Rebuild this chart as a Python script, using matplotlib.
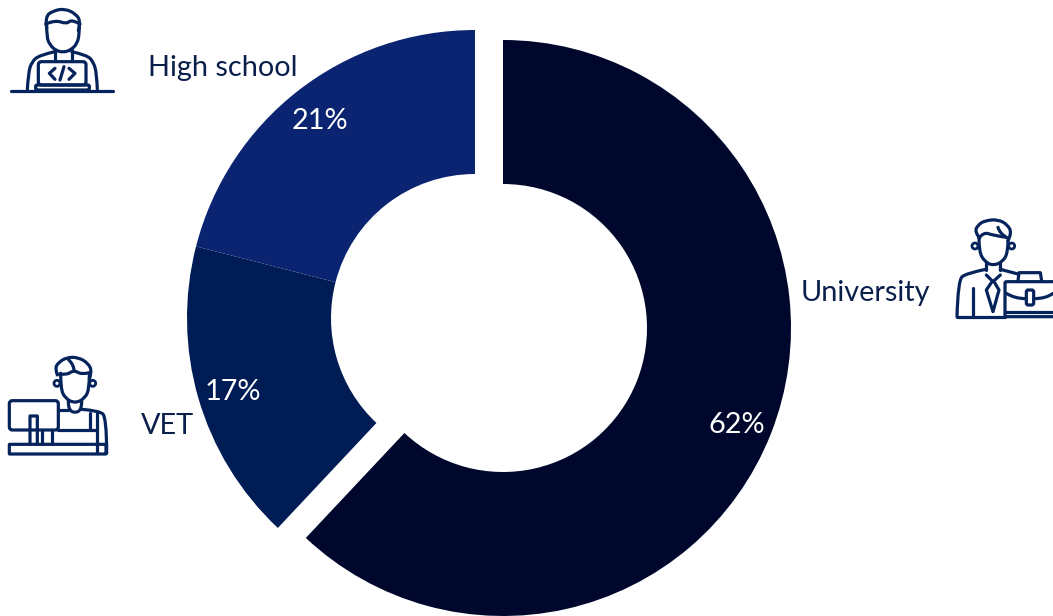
#!/usr/bin/env python3
"""Donut of education level, with outline figures beside each label."""
import matplotlib
matplotlib.use('Agg')
import matplotlib.pyplot as plt
from matplotlib.path import Path
from matplotlib.patches import PathPatch, Circle, FancyBboxPatch

labels = ['University', 'VET', 'High school']
shares = [62, 17, 21]
colors = ['#00072D', '#001C55', '#0A2472']
ICON = '#06245C'
LW = 2.3

plt.rcParams['font.family'] = ['Lato', 'DejaVu Sans']

fig = plt.figure(figsize=(10.53, 6.16), dpi=100)
ax = fig.add_axes([0, 0, 1, 1])

# y axis runs downward, so -90 is 12 o'clock and angles sweep clockwise
wedges, _ = ax.pie(shares, colors=colors, startangle=-90, counterclock=True,
                   radius=288, center=(503, 328),
                   wedgeprops={'width': 144, 'linewidth': 0})
# VET and High school are pulled out together
for w in wedges[1:]:
    w.set_center((475, 318))

ax.set_xlim(0, 1053)
ax.set_ylim(616, 0)
ax.set_aspect('auto')
ax.axis('off')

FS = 20.8
ax.text(801, 293, labels[0], fontsize=FS, color='#0B1F4B', va='center')
ax.text(141, 426, labels[1], fontsize=FS, color='#0B1F4B', va='center')
ax.text(148, 68, labels[2], fontsize=FS, color='#0B1F4B', va='center')
ax.text(737, 425, f'{shares[0]}%', fontsize=FS, color='white', va='center', ha='center')
ax.text(233, 392, f'{shares[1]}%', fontsize=FS, color='white', va='center', ha='center')
ax.text(320, 121, f'{shares[2]}%', fontsize=FS, color='white', va='center', ha='center')


def stroke(pts, ox, oy):
    """Smooth line through the midpoints of pts, given at 3x icon scale."""
    p = [(ox + x / 3, oy + y / 3) for x, y in pts]
    if len(p) == 2:
        verts, codes = p, [Path.MOVETO, Path.LINETO]
    else:
        verts, codes = [p[0]], [Path.MOVETO]
        for a, b in zip(p[1:-1], p[2:]):
            verts += [a, ((a[0] + b[0]) / 2, (a[1] + b[1]) / 2)]
            codes += [Path.CURVE3, Path.CURVE3]
        verts[-1] = p[-1]
    ax.add_patch(PathPatch(Path(verts, codes), fill=False, edgecolor=ICON, lw=LW,
                           capstyle='round', joinstyle='round'))


def box(x0, y0, x1, y1, ox, oy, pad=3):
    ax.add_patch(FancyBboxPatch((ox + x0 / 3, oy + y0 / 3), (x1 - x0) / 3, (y1 - y0) / 3,
                                boxstyle=f'round,pad=0,rounding_size={pad}',
                                fill=False, edgecolor=ICON, lw=LW))


def ear(x, y, ox, oy):
    ax.add_patch(Circle((ox + x / 3, oy + y / 3), 3, fill=False, edgecolor=ICON, lw=LW - 0.3))


# figure at a laptop
ox, oy = 0, 0
stroke([(33, 272), (338, 272)], ox, oy)
stroke([(140, 85), (135, 50), (160, 32), (195, 26), (228, 42), (242, 65), (235, 92)], ox, oy)
stroke([(137, 72), (165, 60), (200, 72), (215, 58), (240, 72)], ox, oy)
stroke([(140, 75), (140, 112), (150, 135), (168, 152), (190, 157), (213, 150), (232, 130), (238, 100), (238, 75)], ox, oy)
stroke([(165, 150), (165, 178)], ox, oy)
stroke([(215, 150), (215, 178)], ox, oy)
stroke([(165, 155), (120, 165), (95, 185), (85, 220), (82, 268)], ox, oy)
stroke([(215, 155), (260, 165), (280, 185), (290, 220), (292, 268)], ox, oy)
box(115, 185, 258, 255, ox, oy)
box(107, 255, 268, 270, ox, oy, pad=1.5)
stroke([(165, 205), (148, 220), (148, 220), (165, 238)], ox, oy)
stroke([(192, 200), (180, 240)], ox, oy)
stroke([(207, 205), (225, 220), (225, 220), (207, 238)], ox, oy)

# figure at a desktop monitor
ox, oy = 0, 350
stroke([(172, 75), (165, 55), (175, 38), (200, 22), (235, 22), (265, 40), (276, 65), (268, 88)], ox, oy)
stroke([(178, 72), (200, 75), (222, 60), (245, 74), (268, 68)], ox, oy)
stroke([(205, 28), (222, 45), (222, 62)], ox, oy)
stroke([(182, 70), (182, 115), (195, 145), (225, 160), (255, 145), (268, 115), (268, 75)], ox, oy)
ear(171, 100, ox, oy)
ear(278, 100, ox, oy)
box(28, 152, 175, 240, ox, oy)
stroke([(90, 283), (90, 198), (90, 198), (112, 198), (112, 198), (112, 283)], ox, oy)
stroke([(125, 242), (125, 283)], ox, oy)
stroke([(155, 242), (155, 283)], ox, oy)
stroke([(205, 155), (205, 178), (225, 190), (245, 178), (245, 155)], ox, oy)
stroke([(175, 180), (205, 180)], ox, oy)
stroke([(245, 178), (295, 182), (320, 200), (320, 310)], ox, oy)
stroke([(270, 190), (270, 240)], ox, oy)
stroke([(175, 240), (290, 240)], ox, oy)
stroke([(290, 190), (290, 310)], ox, oy)
box(28, 283, 318, 312, ox, oy, pad=0.5)

# figure with a briefcase, running off the right edge
ox, oy = 943, 210
stroke([(110, 85), (95, 65), (105, 45), (125, 32), (165, 28), (195, 45), (206, 70), (195, 92)], ox, oy)
stroke([(108, 84), (122, 66), (150, 76), (190, 82)], ox, oy)
stroke([(165, 52), (170, 70), (190, 82)], ox, oy)
stroke([(108, 85), (108, 125), (125, 155), (150, 167), (180, 155), (195, 125), (195, 90)], ox, oy)
ear(96, 108, ox, oy)
ear(206, 108, ox, oy)
stroke([(128, 155), (128, 180)], ox, oy)
stroke([(172, 155), (172, 180)], ox, oy)
stroke([(128, 178), (70, 190), (45, 210), (42, 320)], ox, oy)
stroke([(172, 178), (225, 192)], ox, oy)
stroke([(42, 322), (185, 322)], ox, oy)
stroke([(90, 235), (90, 320)], ox, oy)
stroke([(130, 195), (150, 215), (150, 215), (172, 195)], ox, oy)
stroke([(145, 218), (130, 240), (130, 240), (150, 305), (150, 305), (168, 240), (168, 240), (155, 218)], ox, oy)
box(186, 215, 350, 320, ox, oy, pad=1.5)
stroke([(225, 213), (228, 188), (228, 188), (292, 188), (292, 188), (296, 213)], ox, oy)
stroke([(190, 250), (215, 266), (250, 266)], ox, oy)
stroke([(272, 266), (310, 266), (330, 250)], ox, oy)
box(250, 240, 272, 285, ox, oy, pad=2)
stroke([(190, 305), (330, 305)], ox, oy)

fig.savefig('out.png', dpi=100)
